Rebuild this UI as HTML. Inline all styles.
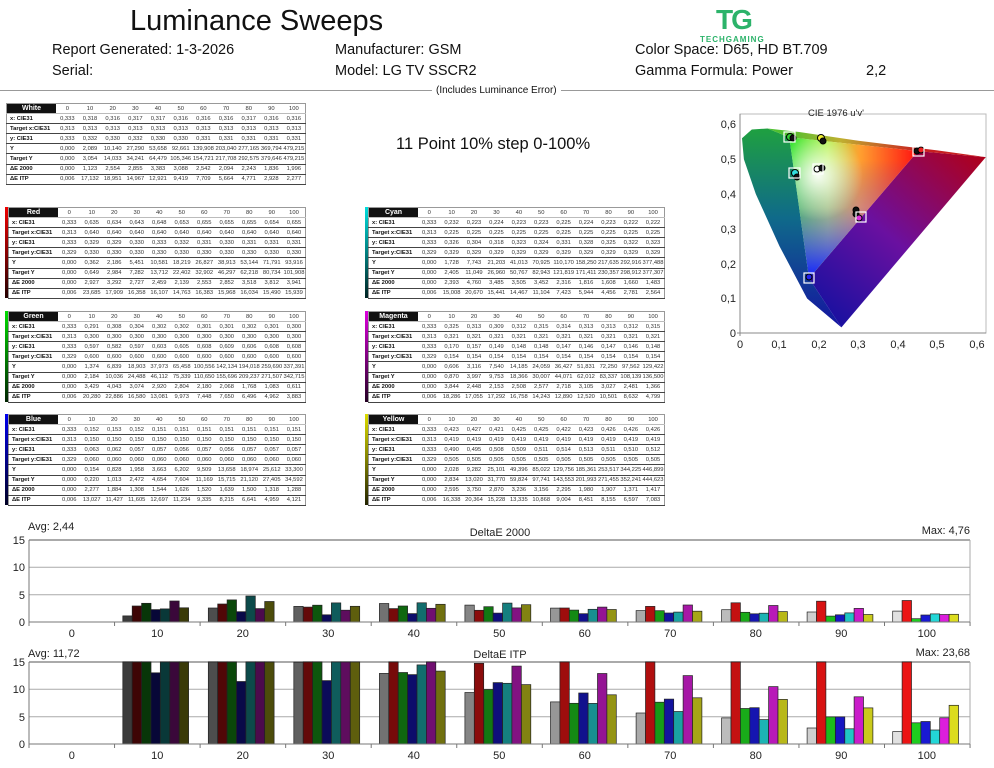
<!DOCTYPE html>
<html><head><meta charset="utf-8">
<style>
body{margin:0;width:994px;height:768px;background:#fff;position:relative;overflow:hidden;font-family:"Liberation Sans",sans-serif;color:#111}
.a{position:absolute;white-space:nowrap}
.h{font-size:14.5px}
table.t{position:absolute;border-collapse:collapse;font-size:5.8px;border:1px solid #999;table-layout:fixed}
table.t td{height:9.1px;padding:0;text-align:center;border-bottom:1px solid #444;line-height:8px;color:#333}
table.t tr:first-child td{border-bottom:1px solid #bbb;color:#333}
table.t td:first-child{text-align:left;font-weight:bold;padding-left:3px;width:49px;color:#111}
table.t tr:first-child td:first-child{background:#111;color:#fff;text-align:center;font-size:7px;padding:0}
.cb{position:absolute;width:3px}
</style></head><body>
<div class="a" style="left:130px;top:5px;font-size:29px">Luminance Sweeps</div>
<div class="a" style="left:716px;top:4px;font-size:28px;font-weight:bold;color:#2cb36a;letter-spacing:-2px">TG</div>
<div class="a" style="left:700px;top:35px;font-size:8px;font-weight:bold;color:#2cb36a;letter-spacing:1px">TECHGAMING</div>
<div class="a h" style="left:52px;top:42px">Report Generated: 1-3-2026</div>
<div class="a h" style="left:335px;top:42px">Manufacturer: GSM</div>
<div class="a h" style="left:635px;top:42px">Color Space: D65, HD BT.709</div>
<div class="a h" style="left:52px;top:63px">Serial:</div>
<div class="a h" style="left:335px;top:63px">Model: LG TV SSCR2</div>
<div class="a h" style="left:635px;top:63px">Gamma Formula: Power</div>
<div class="a h" style="left:866px;top:63px">2,2</div>
<div class="a" style="left:0;top:90px;width:994px;border-top:1px solid #999"></div>
<div class="a" style="left:432px;top:85px;font-size:10px;background:#fff;padding:0 4px">(Includes Luminance Error)</div>
<div class="a" style="left:396px;top:135px;font-size:16.5px">11 Point 10% step 0-100%</div>

<div class="cb" style="left:5px;top:207px;height:91px;background:linear-gradient(#e00,#200)"></div>
<div class="cb" style="left:5px;top:311px;height:91px;background:linear-gradient(#0d0,#020)"></div>
<div class="cb" style="left:5px;top:414px;height:91px;background:linear-gradient(#00e,#002)"></div>
<div class="cb" style="left:365px;top:207px;height:91px;background:linear-gradient(#0dd,#022)"></div>
<div class="cb" style="left:365px;top:311px;height:91px;background:linear-gradient(#d0d,#202)"></div>
<div class="cb" style="left:365px;top:414px;height:91px;background:linear-gradient(#dd0,#220)"></div>

<table class="t" style="left:6px;top:103px;width:300px">
<tr><td>White</td><td>0</td><td>10</td><td>20</td><td>30</td><td>40</td><td>50</td><td>60</td><td>70</td><td>80</td><td>90</td><td>100</td></tr>
<tr><td>x: CIE31</td><td>0,333</td><td>0,318</td><td>0,316</td><td>0,317</td><td>0,317</td><td>0,316</td><td>0,316</td><td>0,316</td><td>0,317</td><td>0,316</td><td>0,316</td></tr>
<tr><td>Target x:CIE31</td><td>0,313</td><td>0,313</td><td>0,313</td><td>0,313</td><td>0,313</td><td>0,313</td><td>0,313</td><td>0,313</td><td>0,313</td><td>0,313</td><td>0,313</td></tr>
<tr><td>y: CIE31</td><td>0,333</td><td>0,332</td><td>0,330</td><td>0,332</td><td>0,330</td><td>0,330</td><td>0,331</td><td>0,331</td><td>0,331</td><td>0,331</td><td>0,331</td></tr>
<tr><td>Y</td><td>0,000</td><td>2,089</td><td>10,140</td><td>27,290</td><td>53,658</td><td>92,661</td><td>139,908</td><td>203,040</td><td>277,165</td><td>369,794</td><td>479,215</td></tr>
<tr><td>Target Y</td><td>0,000</td><td>3,054</td><td>14,033</td><td>34,241</td><td>64,479</td><td>105,346</td><td>154,721</td><td>217,708</td><td>292,575</td><td>379,646</td><td>479,215</td></tr>
<tr><td>ΔE 2000</td><td>0,000</td><td>1,123</td><td>2,554</td><td>2,855</td><td>3,383</td><td>3,088</td><td>2,542</td><td>2,094</td><td>2,243</td><td>1,836</td><td>1,996</td></tr>
<tr><td>ΔE ITP</td><td>0,006</td><td>17,132</td><td>18,951</td><td>14,967</td><td>12,921</td><td>9,419</td><td>7,709</td><td>5,664</td><td>4,771</td><td>2,928</td><td>2,277</td></tr>
</table>

<table class="t" style="left:8px;top:207px;width:298px">
<tr><td>Red</td><td>0</td><td>10</td><td>20</td><td>30</td><td>40</td><td>50</td><td>60</td><td>70</td><td>80</td><td>90</td><td>100</td></tr>
<tr><td>x: CIE31</td><td>0,333</td><td>0,635</td><td>0,634</td><td>0,643</td><td>0,648</td><td>0,653</td><td>0,655</td><td>0,655</td><td>0,655</td><td>0,654</td><td>0,655</td></tr>
<tr><td>Target x:CIE31</td><td>0,313</td><td>0,640</td><td>0,640</td><td>0,640</td><td>0,640</td><td>0,640</td><td>0,640</td><td>0,640</td><td>0,640</td><td>0,640</td><td>0,640</td></tr>
<tr><td>y: CIE31</td><td>0,333</td><td>0,329</td><td>0,329</td><td>0,330</td><td>0,333</td><td>0,332</td><td>0,331</td><td>0,330</td><td>0,331</td><td>0,331</td><td>0,331</td></tr>
<tr><td>Target y:CIE31</td><td>0,329</td><td>0,330</td><td>0,330</td><td>0,330</td><td>0,330</td><td>0,330</td><td>0,330</td><td>0,330</td><td>0,330</td><td>0,330</td><td>0,330</td></tr>
<tr><td>Y</td><td>0,000</td><td>0,362</td><td>2,186</td><td>5,451</td><td>10,581</td><td>18,219</td><td>26,827</td><td>38,913</td><td>53,144</td><td>71,791</td><td>93,916</td></tr>
<tr><td>Target Y</td><td>0,000</td><td>0,649</td><td>2,984</td><td>7,282</td><td>13,712</td><td>22,402</td><td>32,902</td><td>46,297</td><td>62,218</td><td>80,734</td><td>101,908</td></tr>
<tr><td>ΔE 2000</td><td>0,000</td><td>2,927</td><td>3,292</td><td>2,727</td><td>2,459</td><td>2,139</td><td>2,553</td><td>2,852</td><td>3,518</td><td>3,812</td><td>3,941</td></tr>
<tr><td>ΔE ITP</td><td>0,006</td><td>23,685</td><td>17,909</td><td>16,358</td><td>16,107</td><td>14,763</td><td>16,383</td><td>15,968</td><td>16,034</td><td>15,490</td><td>15,939</td></tr>
</table>

<table class="t" style="left:8px;top:311px;width:298px">
<tr><td>Green</td><td>0</td><td>10</td><td>20</td><td>30</td><td>40</td><td>50</td><td>60</td><td>70</td><td>80</td><td>90</td><td>100</td></tr>
<tr><td>x: CIE31</td><td>0,333</td><td>0,291</td><td>0,308</td><td>0,304</td><td>0,302</td><td>0,302</td><td>0,301</td><td>0,301</td><td>0,302</td><td>0,301</td><td>0,300</td></tr>
<tr><td>Target x:CIE31</td><td>0,313</td><td>0,300</td><td>0,300</td><td>0,300</td><td>0,300</td><td>0,300</td><td>0,300</td><td>0,300</td><td>0,300</td><td>0,300</td><td>0,300</td></tr>
<tr><td>y: CIE31</td><td>0,333</td><td>0,597</td><td>0,582</td><td>0,597</td><td>0,603</td><td>0,605</td><td>0,608</td><td>0,609</td><td>0,606</td><td>0,608</td><td>0,608</td></tr>
<tr><td>Target y:CIE31</td><td>0,329</td><td>0,600</td><td>0,600</td><td>0,600</td><td>0,600</td><td>0,600</td><td>0,600</td><td>0,600</td><td>0,600</td><td>0,600</td><td>0,600</td></tr>
<tr><td>Y</td><td>0,000</td><td>1,374</td><td>6,839</td><td>18,903</td><td>37,973</td><td>65,458</td><td>100,556</td><td>142,134</td><td>194,018</td><td>259,690</td><td>337,391</td></tr>
<tr><td>Target Y</td><td>0,000</td><td>2,184</td><td>10,036</td><td>24,488</td><td>46,112</td><td>75,339</td><td>110,650</td><td>155,696</td><td>209,237</td><td>271,507</td><td>342,715</td></tr>
<tr><td>ΔE 2000</td><td>0,000</td><td>3,429</td><td>4,043</td><td>3,074</td><td>2,920</td><td>2,804</td><td>2,180</td><td>2,068</td><td>1,768</td><td>1,083</td><td>0,611</td></tr>
<tr><td>ΔE ITP</td><td>0,006</td><td>20,280</td><td>22,886</td><td>16,580</td><td>13,081</td><td>9,973</td><td>7,448</td><td>7,650</td><td>6,496</td><td>4,962</td><td>3,883</td></tr>
</table>

<table class="t" style="left:8px;top:414px;width:298px">
<tr><td>Blue</td><td>0</td><td>10</td><td>20</td><td>30</td><td>40</td><td>50</td><td>60</td><td>70</td><td>80</td><td>90</td><td>100</td></tr>
<tr><td>x: CIE31</td><td>0,333</td><td>0,152</td><td>0,153</td><td>0,152</td><td>0,151</td><td>0,151</td><td>0,151</td><td>0,151</td><td>0,151</td><td>0,151</td><td>0,151</td></tr>
<tr><td>Target x:CIE31</td><td>0,313</td><td>0,150</td><td>0,150</td><td>0,150</td><td>0,150</td><td>0,150</td><td>0,150</td><td>0,150</td><td>0,150</td><td>0,150</td><td>0,150</td></tr>
<tr><td>y: CIE31</td><td>0,333</td><td>0,063</td><td>0,062</td><td>0,057</td><td>0,057</td><td>0,056</td><td>0,057</td><td>0,056</td><td>0,057</td><td>0,057</td><td>0,057</td></tr>
<tr><td>Target y:CIE31</td><td>0,329</td><td>0,060</td><td>0,060</td><td>0,060</td><td>0,060</td><td>0,060</td><td>0,060</td><td>0,060</td><td>0,060</td><td>0,060</td><td>0,060</td></tr>
<tr><td>Y</td><td>0,000</td><td>0,154</td><td>0,828</td><td>1,958</td><td>3,663</td><td>6,202</td><td>9,509</td><td>13,658</td><td>18,974</td><td>25,612</td><td>33,300</td></tr>
<tr><td>Target Y</td><td>0,000</td><td>0,220</td><td>1,013</td><td>2,472</td><td>4,654</td><td>7,604</td><td>11,169</td><td>15,715</td><td>21,120</td><td>27,405</td><td>34,592</td></tr>
<tr><td>ΔE 2000</td><td>0,000</td><td>2,277</td><td>1,884</td><td>1,308</td><td>1,544</td><td>1,626</td><td>1,520</td><td>1,639</td><td>1,500</td><td>1,318</td><td>1,288</td></tr>
<tr><td>ΔE ITP</td><td>0,006</td><td>13,027</td><td>11,427</td><td>11,605</td><td>12,697</td><td>11,234</td><td>9,335</td><td>8,215</td><td>6,641</td><td>4,959</td><td>4,121</td></tr>
</table>

<table class="t" style="left:368px;top:207px;width:297px">
<tr><td>Cyan</td><td>0</td><td>10</td><td>20</td><td>30</td><td>40</td><td>50</td><td>60</td><td>70</td><td>80</td><td>90</td><td>100</td></tr>
<tr><td>x: CIE31</td><td>0,333</td><td>0,232</td><td>0,223</td><td>0,224</td><td>0,223</td><td>0,223</td><td>0,225</td><td>0,224</td><td>0,223</td><td>0,222</td><td>0,222</td></tr>
<tr><td>Target x:CIE31</td><td>0,313</td><td>0,225</td><td>0,225</td><td>0,225</td><td>0,225</td><td>0,225</td><td>0,225</td><td>0,225</td><td>0,225</td><td>0,225</td><td>0,225</td></tr>
<tr><td>y: CIE31</td><td>0,333</td><td>0,326</td><td>0,304</td><td>0,318</td><td>0,323</td><td>0,324</td><td>0,331</td><td>0,328</td><td>0,325</td><td>0,322</td><td>0,323</td></tr>
<tr><td>Target y:CIE31</td><td>0,329</td><td>0,329</td><td>0,329</td><td>0,329</td><td>0,329</td><td>0,329</td><td>0,329</td><td>0,329</td><td>0,329</td><td>0,329</td><td>0,329</td></tr>
<tr><td>Y</td><td>0,000</td><td>1,728</td><td>7,743</td><td>21,203</td><td>41,013</td><td>70,925</td><td>110,170</td><td>158,250</td><td>217,635</td><td>292,916</td><td>377,488</td></tr>
<tr><td>Target Y</td><td>0,000</td><td>2,405</td><td>11,049</td><td>26,960</td><td>50,767</td><td>82,943</td><td>121,819</td><td>171,411</td><td>230,357</td><td>298,912</td><td>377,307</td></tr>
<tr><td>ΔE 2000</td><td>0,000</td><td>2,393</td><td>4,760</td><td>3,485</td><td>3,505</td><td>3,452</td><td>2,316</td><td>1,816</td><td>1,608</td><td>1,660</td><td>1,483</td></tr>
<tr><td>ΔE ITP</td><td>0,006</td><td>15,008</td><td>20,670</td><td>15,441</td><td>14,467</td><td>11,104</td><td>7,423</td><td>5,944</td><td>4,456</td><td>2,781</td><td>2,564</td></tr>
</table>

<table class="t" style="left:368px;top:311px;width:297px">
<tr><td>Magenta</td><td>0</td><td>10</td><td>20</td><td>30</td><td>40</td><td>50</td><td>60</td><td>70</td><td>80</td><td>90</td><td>100</td></tr>
<tr><td>x: CIE31</td><td>0,333</td><td>0,325</td><td>0,313</td><td>0,309</td><td>0,312</td><td>0,315</td><td>0,314</td><td>0,313</td><td>0,313</td><td>0,312</td><td>0,315</td></tr>
<tr><td>Target x:CIE31</td><td>0,313</td><td>0,321</td><td>0,321</td><td>0,321</td><td>0,321</td><td>0,321</td><td>0,321</td><td>0,321</td><td>0,321</td><td>0,321</td><td>0,321</td></tr>
<tr><td>y: CIE31</td><td>0,333</td><td>0,170</td><td>0,157</td><td>0,149</td><td>0,148</td><td>0,148</td><td>0,147</td><td>0,146</td><td>0,147</td><td>0,146</td><td>0,148</td></tr>
<tr><td>Target y:CIE31</td><td>0,329</td><td>0,154</td><td>0,154</td><td>0,154</td><td>0,154</td><td>0,154</td><td>0,154</td><td>0,154</td><td>0,154</td><td>0,154</td><td>0,154</td></tr>
<tr><td>Y</td><td>0,000</td><td>0,606</td><td>3,116</td><td>7,540</td><td>14,185</td><td>24,059</td><td>36,427</td><td>51,831</td><td>72,250</td><td>97,562</td><td>129,422</td></tr>
<tr><td>Target Y</td><td>0,000</td><td>0,870</td><td>3,997</td><td>9,753</td><td>18,366</td><td>30,007</td><td>44,071</td><td>62,012</td><td>83,337</td><td>108,139</td><td>136,500</td></tr>
<tr><td>ΔE 2000</td><td>0,000</td><td>3,844</td><td>2,448</td><td>2,153</td><td>2,508</td><td>2,577</td><td>2,718</td><td>3,105</td><td>3,027</td><td>2,481</td><td>1,366</td></tr>
<tr><td>ΔE ITP</td><td>0,006</td><td>18,286</td><td>17,055</td><td>17,292</td><td>16,758</td><td>14,243</td><td>12,890</td><td>12,520</td><td>10,501</td><td>8,632</td><td>4,799</td></tr>
</table>

<table class="t" style="left:368px;top:414px;width:297px">
<tr><td>Yellow</td><td>0</td><td>10</td><td>20</td><td>30</td><td>40</td><td>50</td><td>60</td><td>70</td><td>80</td><td>90</td><td>100</td></tr>
<tr><td>x: CIE31</td><td>0,333</td><td>0,423</td><td>0,427</td><td>0,421</td><td>0,425</td><td>0,425</td><td>0,422</td><td>0,423</td><td>0,426</td><td>0,426</td><td>0,426</td></tr>
<tr><td>Target x:CIE31</td><td>0,313</td><td>0,419</td><td>0,419</td><td>0,419</td><td>0,419</td><td>0,419</td><td>0,419</td><td>0,419</td><td>0,419</td><td>0,419</td><td>0,419</td></tr>
<tr><td>y: CIE31</td><td>0,333</td><td>0,490</td><td>0,495</td><td>0,508</td><td>0,509</td><td>0,511</td><td>0,514</td><td>0,513</td><td>0,511</td><td>0,510</td><td>0,512</td></tr>
<tr><td>Target y:CIE31</td><td>0,329</td><td>0,505</td><td>0,505</td><td>0,505</td><td>0,505</td><td>0,505</td><td>0,505</td><td>0,505</td><td>0,505</td><td>0,505</td><td>0,505</td></tr>
<tr><td>Y</td><td>0,000</td><td>2,028</td><td>9,282</td><td>25,101</td><td>49,396</td><td>85,022</td><td>129,756</td><td>185,361</td><td>253,517</td><td>344,225</td><td>446,899</td></tr>
<tr><td>Target Y</td><td>0,000</td><td>2,834</td><td>13,020</td><td>31,770</td><td>59,824</td><td>97,741</td><td>143,553</td><td>201,993</td><td>271,455</td><td>352,241</td><td>444,623</td></tr>
<tr><td>ΔE 2000</td><td>0,000</td><td>2,595</td><td>3,750</td><td>2,870</td><td>3,236</td><td>3,156</td><td>2,295</td><td>1,980</td><td>1,907</td><td>1,371</td><td>1,417</td></tr>
<tr><td>ΔE ITP</td><td>0,006</td><td>16,338</td><td>20,364</td><td>15,228</td><td>13,335</td><td>10,868</td><td>9,004</td><td>8,451</td><td>8,155</td><td>6,597</td><td>7,083</td></tr>
</table>

<!-- CIE diagram -->
<svg class="a" style="left:0;top:0" width="994" height="768">
<defs>
<linearGradient id="gl" x1="0" y1="0" x2="0" y2="1"><stop offset="0" stop-color="#1fa040"/><stop offset="0.45" stop-color="#0f6a8a"/><stop offset="1" stop-color="#1414a0"/></linearGradient>
<linearGradient id="gr" gradientUnits="userSpaceOnUse" x1="841" y1="327" x2="986" y2="157"><stop offset="0" stop-color="#1a10a0"/><stop offset="0.45" stop-color="#6a10a0"/><stop offset="1" stop-color="#b00018"/></linearGradient>
<linearGradient id="gt" gradientUnits="userSpaceOnUse" x1="789" y1="0" x2="918" y2="0"><stop offset="0" stop-color="#50c030"/><stop offset="0.4" stop-color="#c0b030"/><stop offset="1" stop-color="#c82020"/></linearGradient>
<linearGradient id="g1" gradientUnits="userSpaceOnUse" x1="789" y1="0" x2="918" y2="0"><stop offset="0" stop-color="#20e020"/><stop offset="0.3" stop-color="#b0f040"/><stop offset="0.55" stop-color="#ffa030"/><stop offset="1" stop-color="#ff1010"/></linearGradient>
<linearGradient id="g2" gradientUnits="userSpaceOnUse" x1="0" y1="160" x2="0" y2="278"><stop offset="0" stop-color="#3030ff" stop-opacity="0"/><stop offset="0.4" stop-color="#8060ff" stop-opacity="0.35"/><stop offset="1" stop-color="#1020ff" stop-opacity="1"/></linearGradient>
<radialGradient id="g3" gradientUnits="userSpaceOnUse" cx="818" cy="175" r="45"><stop offset="0" stop-color="#fff" stop-opacity="0.95"/><stop offset="1" stop-color="#fff" stop-opacity="0"/></radialGradient>
</defs>
<rect x="740" y="114" width="246" height="219" fill="#fff" stroke="#bbb"/>
<polygon fill="url(#gl)" points="789.3,137.2 767.6,128.5 751.8,129.5 742,138.3 743.9,159.2 755.8,194 779.5,246.2 807.1,298.5 841.4,327.4 809,278.3"/>
<polygon fill="url(#gr)" points="809,278.3 841.4,327.4 985.8,157.1 917.9,151.1"/>
<polygon fill="url(#gt)" points="789.3,137.2 767.6,128.5 799.2,132 858.4,140.7 937.3,150.4 985.8,157.1 917.9,151.1"/>
<polygon fill="url(#g1)" points="789.3,137.2 917.9,151.1 809,278.3"/>
<polygon fill="url(#g2)" points="789.3,137.2 917.9,151.1 809,278.3"/>
<polygon fill="url(#g3)" points="789.3,137.2 917.9,151.1 809,278.3"/>
<g fill="#111" stroke="#000">
<circle cx="790" cy="137" r="3.5" fill="#3c3"/><circle cx="793" cy="138" r="3"/>
<circle cx="821" cy="138" r="3.5" fill="#ee3"/><circle cx="823" cy="141" r="3"/>
<circle cx="917" cy="151" r="3"/><circle cx="921" cy="150" r="3" fill="#e22"/>
<circle cx="795" cy="173" r="3.5" fill="#3dd"/><circle cx="797" cy="177" r="3"/>
<circle cx="817" cy="169" r="3" fill="#fff"/><circle cx="822" cy="168" r="3"/>
<circle cx="856" cy="210" r="3"/><circle cx="856" cy="214" r="3"/><circle cx="859" cy="218" r="3" fill="#d3d"/>
<circle cx="809" cy="277" r="3" fill="#22e"/>
</g>
<g fill="none" stroke="#fff" stroke-width="1.2">
<rect x="784" y="132" width="11" height="10"/><rect x="913" y="146" width="11" height="10"/><rect x="789" y="168" width="11" height="10"/><rect x="856" y="212" width="10" height="10"/><rect x="804" y="273" width="10" height="10"/><rect x="813" y="164" width="10" height="10"/>
</g>
<g stroke="#888"><line x1="740" y1="114" x2="740" y2="336"/><line x1="737" y1="333" x2="986" y2="333"/></g>
<g font-size="11" fill="#222" text-anchor="end" font-family="Liberation Sans">
<text x="736" y="128">0,6</text><text x="736" y="163">0,5</text><text x="736" y="198">0,4</text><text x="736" y="233">0,3</text><text x="736" y="268">0,2</text><text x="736" y="302">0,1</text><text x="736" y="337">0</text>
</g>
<g font-size="11" fill="#222" text-anchor="middle" font-family="Liberation Sans">
<text x="740" y="348">0</text><text x="779" y="348">0,1</text><text x="819" y="348">0,2</text><text x="858" y="348">0,3</text><text x="898" y="348">0,4</text><text x="937" y="348">0,5</text><text x="977" y="348">0,6</text>
<text x="836" y="116" font-size="9.5">CIE 1976 u'v'</text>
</g>

<!-- bar charts frames -->
<g stroke="#aaa" fill="none">
<line x1="29" y1="540" x2="970" y2="540" stroke-width="2"/><line x1="29" y1="567.3" x2="970" y2="567.3"/><line x1="29" y1="594.7" x2="970" y2="594.7"/><line x1="970" y1="540" x2="970" y2="622"/>
<line x1="29" y1="662" x2="970" y2="662" stroke-width="2"/><line x1="29" y1="689.3" x2="970" y2="689.3"/><line x1="29" y1="716.7" x2="970" y2="716.7"/><line x1="970" y1="662" x2="970" y2="744"/>
</g>
<g id="bars"></g>
<g stroke="#777">
<line x1="29" y1="540" x2="29" y2="622"/><line x1="29" y1="622" x2="970" y2="622"/>
<line x1="29" y1="662" x2="29" y2="744"/><line x1="29" y1="744" x2="970" y2="744"/>
</g>
<g id="ticks" stroke="#777"></g>
<g font-size="11" fill="#222" font-family="Liberation Sans" text-anchor="end">
<text x="25" y="544">15</text><text x="25" y="571">10</text><text x="25" y="599">5</text><text x="25" y="626">0</text>
<text x="25" y="666">15</text><text x="25" y="693">10</text><text x="25" y="721">5</text><text x="25" y="748">0</text>
</g>
<g font-size="11" fill="#222" font-family="Liberation Sans" text-anchor="middle">
<text x="71.8" y="637">0</text><text x="157.3" y="637">10</text><text x="242.8" y="637">20</text><text x="328.3" y="637">30</text><text x="413.8" y="637">40</text><text x="499.3" y="637">50</text><text x="584.8" y="637">60</text><text x="670.3" y="637">70</text><text x="755.8" y="637">80</text><text x="841.3" y="637">90</text><text x="926.8" y="637">100</text>
<text x="71.8" y="759">0</text><text x="157.3" y="759">10</text><text x="242.8" y="759">20</text><text x="328.3" y="759">30</text><text x="413.8" y="759">40</text><text x="499.3" y="759">50</text><text x="584.8" y="759">60</text><text x="670.3" y="759">70</text><text x="755.8" y="759">80</text><text x="841.3" y="759">90</text><text x="926.8" y="759">100</text>
<text x="500" y="536">DeltaE 2000</text><text x="500" y="658">DeltaE ITP</text>
</g>
<g font-size="11" fill="#222" font-family="Liberation Sans">
<text x="28" y="530">Avg: 2,44</text><text x="28" y="657">Avg: 11,72</text>
<text x="970" y="534" text-anchor="end">Max: 4,76</text><text x="970" y="656" text-anchor="end">Max: 23,68</text>
</g>
</svg>
<script>
var de=[[0,1.123,2.554,2.855,3.383,3.088,2.542,2.094,2.243,1.836,1.996],
[0,2.927,3.292,2.727,2.459,2.139,2.553,2.852,3.518,3.812,3.941],
[0,3.429,4.043,3.074,2.920,2.804,2.180,2.068,1.768,1.083,0.611],
[0,2.277,1.884,1.308,1.544,1.626,1.520,1.639,1.500,1.318,1.288],
[0,2.393,4.760,3.485,3.505,3.452,2.316,1.816,1.608,1.660,1.483],
[0,3.844,2.448,2.153,2.508,2.577,2.718,3.105,3.027,2.481,1.366],
[0,2.595,3.750,2.870,3.236,3.156,2.295,1.980,1.907,1.371,1.417]];
var it=[[0.006,17.132,18.951,14.967,12.921,9.419,7.709,5.664,4.771,2.928,2.277],
[0.006,23.685,17.909,16.358,16.107,14.763,16.383,15.968,16.034,15.490,15.939],
[0.006,20.280,22.886,16.580,13.081,9.973,7.448,7.650,6.496,4.962,3.883],
[0.006,13.027,11.427,11.605,12.697,11.234,9.335,8.215,6.641,4.959,4.121],
[0.006,15.008,20.670,15.441,14.467,11.104,7.423,5.944,4.456,2.781,2.564],
[0.006,18.286,17.055,17.292,16.758,14.243,12.890,12.520,10.501,8.632,4.799],
[0.006,16.338,20.364,15.228,13.335,10.868,9.004,8.451,8.155,6.597,7.083]];
var col=[[225,225,225],[235,20,20],[30,205,30],[25,25,210],[35,215,215],[220,30,220],[220,220,30]];
var s='';
function draw(d,bot){
 for(var i=1;i<11;i++){var f=0.18+0.82*i/10;
  for(var j=0;j<7;j++){var v=Math.min(d[j][i],15),h=v/15*82;if(h<0.5)continue;
   var c=col[j];var x=29+i*85.55+8.2+j*9.4;
   s+='<rect x="'+x.toFixed(1)+'" y="'+(bot-h).toFixed(1)+'" width="9.4" height="'+h.toFixed(1)+'" fill="rgb('+Math.round(c[0]*f)+','+Math.round(c[1]*f)+','+Math.round(c[2]*f)+')" stroke="#222" stroke-width="0.7"/>';}}
}
draw(de,622);draw(it,744);
document.getElementById('bars').innerHTML=s;
var t='';for(var i=0;i<=11;i++){var x=29+i*85.55;t+='<line x1="'+x+'" y1="622" x2="'+x+'" y2="626"/><line x1="'+x+'" y1="744" x2="'+x+'" y2="748"/>';}
document.getElementById('ticks').innerHTML=t;
</script>
</body></html>
